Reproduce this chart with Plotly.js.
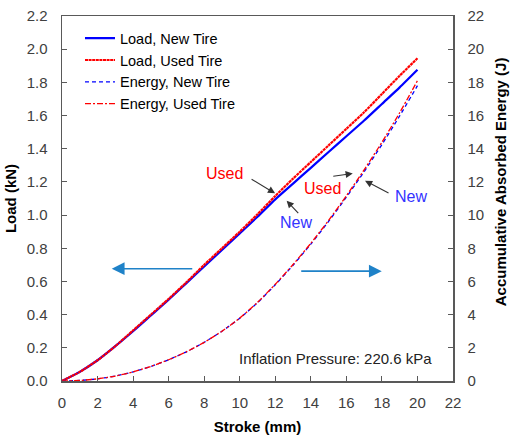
<!DOCTYPE html>
<html>
<head>
<meta charset="utf-8">
<script src="https://cdn.plot.ly/plotly-3.0.1.min.js"></script>
<style>
  html, body { margin: 0; padding: 0; background: #fff; }
  #chart { width: 513px; height: 435px; }
</style>
</head>
<body>
<div id="chart"></div>
<script>
// Tire compression test: load and accumulated energy versus stroke
const stroke = [0, 1, 2, 3, 4, 5, 6, 7, 8, 9, 10, 11, 12, 13, 14, 15, 16, 17, 18, 19, 20];
const loadNew = [0, 0.055, 0.125, 0.21, 0.30, 0.395, 0.49, 0.59, 0.69, 0.79, 0.89, 0.99, 1.095, 1.19, 1.285, 1.38, 1.475, 1.57, 1.67, 1.77, 1.876];
const loadUsed = [0, 0.055, 0.125, 0.21, 0.305, 0.40, 0.495, 0.595, 0.70, 0.80, 0.90, 1.005, 1.115, 1.22, 1.32, 1.42, 1.52, 1.62, 1.73, 1.84, 1.945];
const energyNew = [0, 0.03, 0.13, 0.30, 0.55, 0.88, 1.28, 1.76, 2.33, 3.00, 3.78, 4.72, 5.80, 6.98, 8.25, 9.62, 11.08, 12.62, 14.25, 15.98, 17.8];
const energyUsed = [0, 0.03, 0.13, 0.30, 0.55, 0.88, 1.28, 1.76, 2.33, 3.00, 3.79, 4.74, 5.83, 7.02, 8.30, 9.68, 11.16, 12.73, 14.39, 16.17, 18.1];

const seriesNames = ['Load, New Tire', 'Load, Used Tire', 'Energy, New Tire', 'Energy, Used Tire'];
const xTitle = 'Stroke (mm)';
const yTitle = 'Load (kN)';
const y2Title = 'Accumulative Absorbed Energy (J)';
const noteText = 'Inflation Pressure: 220.6 kPa';

const BLUE = '#0000ff';
const RED = '#ff0000';
const FONT = 'Liberation Sans, Arial, sans-serif';

const traces = [
  { x: stroke, y: loadNew, name: seriesNames[0], mode: 'lines', yaxis: 'y',
    line: { color: BLUE, width: 2.2, dash: 'solid', shape: 'spline', smoothing: 0.6 } },
  { x: stroke, y: loadUsed, name: seriesNames[1], mode: 'lines', yaxis: 'y',
    line: { color: RED, width: 2.2, dash: '3px,0.6px', shape: 'spline', smoothing: 0.6 } },
  { x: stroke, y: energyNew, name: seriesNames[2], mode: 'lines', yaxis: 'y2',
    line: { color: BLUE, width: 1.3, dash: '4px,3px', shape: 'spline', smoothing: 0.6 } },
  { x: stroke, y: energyUsed, name: seriesNames[3], mode: 'lines', yaxis: 'y2',
    line: { color: RED, width: 1.3, dash: '6px,2px,2px,2px', shape: 'spline', smoothing: 0.6 } }
];

const axisCommon = {
  showgrid: false, zeroline: false, showline: true,
  linecolor: '#595959', linewidth: 1.5,
  ticks: 'inside', ticklen: 5, tickcolor: '#595959', tickwidth: 1,
  tickfont: { family: FONT, size: 15, color: '#404040' }
};
const titleFont = { family: FONT, size: 15, color: '#000' };

// black pointer arrows from the labels to the curves
function pointer(x, y, ax, ay) {
  return { x: x, y: y, xref: 'x', yref: 'y', text: '', showarrow: true,
    ax: ax, ay: ay, arrowhead: 2, arrowsize: 1.3, arrowwidth: 1.1, arrowcolor: '#333' };
}
function label(x, y, text, color) {
  return { x: x, y: y, xref: 'x', yref: 'y', text: text, showarrow: false,
    xanchor: 'center', yanchor: 'middle',
    font: { family: FONT, size: 16, color: color } };
}
// blue arrows showing which axis each curve family uses
function axisArrow(x, y, ax) {
  return { x: x, y: y, xref: 'x', yref: 'y', text: '', showarrow: true,
    ax: ax, ay: 0, arrowhead: 2, arrowsize: 1.6, arrowwidth: 1.6, arrowcolor: '#1f82c8' };
}

const layout = {
  width: 513, height: 435,
  margin: { l: 62, r: 60, t: 16, b: 54 },
  paper_bgcolor: '#fff', plot_bgcolor: '#fff',
  font: { family: FONT, color: '#000' },
  showlegend: true,
  legend: { x: 0.046, y: 0.983, xanchor: 'left', yanchor: 'top',
    bgcolor: 'rgba(0,0,0,0)', borderwidth: 0,
    font: { family: FONT, size: 14.5, color: '#000' }, tracegroupgap: 0 },
  xaxis: Object.assign({}, axisCommon, {
    range: [0, 22], dtick: 2, tick0: 0, mirror: true, ticklabelstandoff: 7,
    title: { text: '<b>' + xTitle + '</b>', font: titleFont, standoff: 12 }
  }),
  yaxis: Object.assign({}, axisCommon, {
    range: [0, 2.2], dtick: 0.2, tick0: 0, tickformat: '.1f', ticklabelstandoff: 10,
    title: { text: '<b>' + yTitle + '</b>', font: titleFont, standoff: 6 }
  }),
  yaxis2: Object.assign({}, axisCommon, {
    overlaying: 'y', side: 'right', range: [0, 22], dtick: 2, tick0: 0, ticklabelstandoff: 10
  }),
  annotations: [
    // right-hand axis title, set slightly above the axis midpoint
    { x: 1.12, y: 0.547, xref: 'paper', yref: 'paper', text: '<b>' + y2Title + '</b>',
      textangle: -90, showarrow: false, xanchor: 'center', yanchor: 'middle', font: titleFont },
    label(9.17, 1.249, 'Used', RED),
    label(13.17, 0.958, 'New', '#3333ff'),
    label(14.66, 1.162, 'Used', RED),
    label(19.64, 1.111, 'New', '#3333ff'),
    pointer(11.99, 1.131, -25, -15),
    pointer(12.64, 1.087, 13, 14),
    pointer(16.36, 1.251, -21, 3),
    pointer(17.05, 1.207, 25, 13),
    axisArrow(2.80, 0.677, 82),
    axisArrow(17.99, 0.662, -82),
    { x: 0.70, y: 0.063, xref: 'paper', yref: 'paper', text: noteText, showarrow: false,
      xanchor: 'center', yanchor: 'middle',
      font: { family: FONT, size: 15, color: '#222' } }
  ]
};

Plotly.newPlot('chart', traces, layout, { displayModeBar: false, staticPlot: true });
</script>
</body>
</html>
